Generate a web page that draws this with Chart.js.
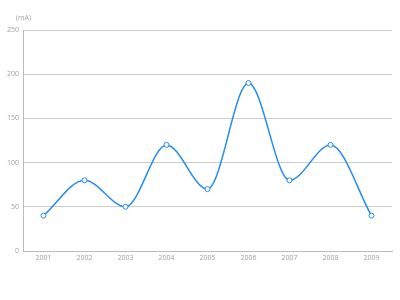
<!DOCTYPE html>
<html>
<head>
<meta charset="utf-8">
<script src="https://cdn.jsdelivr.net/npm/chart.js@4"></script>
<style>
  html, body { margin: 0; padding: 0; background: #fff; }
  #wrap { width: 400px; height: 300px; }
</style>
</head>
<body>
<div id="wrap"><canvas id="myChart"></canvas></div>
<script>
var years = ["2001", "2002", "2003", "2004", "2005", "2006", "2007", "2008", "2009"];
var current = [40, 80, 50, 120, 70, 190, 80, 120, 40];
var yTicks = [0, 50, 100, 150, 200, 250];
var unitLabel = "(mA)";

var lineBlue = "rgb(35,140,240)";
var tickGrey = "#a0a0a0";

// draws the unit text above the y axis
var unitPlugin = {
    id: "unitLabel",
    afterDraw: function (chart) {
        var ctx = chart.ctx;
        var area = chart.chartArea;
        ctx.save();
        ctx.font = "7px 'Open Sans', sans-serif";
        ctx.fillStyle = tickGrey;
        ctx.textAlign = "left";
        ctx.textBaseline = "middle";
        ctx.fillText(unitLabel, area.left - 7, area.top - 12);
        ctx.restore();
    }
};

var data = {
    labels: years,
    datasets: [{
        label: "current",
        data: current,
        borderColor: lineBlue,
        borderWidth: 1.5,
        backgroundColor: "#fff",
        pointBackgroundColor: "#fff",
        pointBorderColor: lineBlue,
        pointBorderWidth: 1,
        pointRadius: 2.5,
        cubicInterpolationMode: "monotone",
        fill: false
    }]
};

var options = {
    responsive: true,
    maintainAspectRatio: false,
    animation: false,
    layout: {
        padding: { top: 30, right: 8, left: 0, bottom: 0 }
    },
    plugins: {
        legend: { display: false },
        tooltip: { enabled: false }
    },
    scales: {
        y: {
            min: 0,
            max: 250,
            afterFit: function (scale) { scale.width = 23; },
            afterBuildTicks: function (scale) {
                scale.ticks = yTicks.map(function (v) { return { value: v }; });
            },
            grid: {
                color: "#cccccc",
                drawTicks: false
            },
            border: { display: true, color: "#bbbbbb" },
            ticks: {
                padding: 4,
                color: tickGrey,
                font: { family: "'Open Sans', sans-serif", size: 7 }
            }
        },
        x: {
            offset: true,
            afterFit: function (scale) { scale.height = 49; },
            grid: {
                display: false,
                drawTicks: false
            },
            border: { display: true, color: "#bbbbbb" },
            ticks: {
                padding: 3,
                color: tickGrey,
                maxRotation: 0,
                font: { family: "'Open Sans', sans-serif", size: 7 }
            }
        }
    }
};

var ctx = document.getElementById("myChart").getContext("2d");
var chart = new Chart(ctx, {
    type: "line",
    data: data,
    options: options,
    plugins: [unitPlugin]
});
</script>
</body>
</html>
